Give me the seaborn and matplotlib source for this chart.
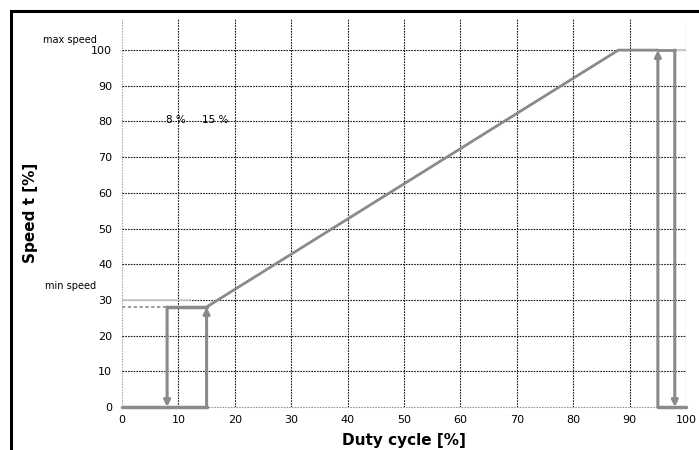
import matplotlib
matplotlib.use("Agg")
import matplotlib.pyplot as plt
import seaborn as sns
import pandas as pd
from matplotlib.patches import Rectangle

# curve values
ramp_x = [15, 16.5, 88, 95]
ramp_y = [28, 29.5, 100, 100]
low_base_x = [0, 15]
high_base_x = [95, 100]
low_plateau_x = [8, 15]
min_speed = 28
max_speed = 100
up_arrows = [(15, 0, min_speed), (95, 0, max_speed)]
down_arrows = [(8, min_speed, 0), (98, max_speed, 0)]
ticks = list(range(0, 101, 10))

sns.set_theme(style="white")
plt.rcParams["font.family"] = ["DejaVu Sans"]
plt.rcParams["text.color"] = "black"
plt.rcParams["axes.labelcolor"] = "black"
plt.rcParams["xtick.color"] = "black"
plt.rcParams["ytick.color"] = "black"

fig = plt.figure(figsize=(6.99, 4.5), dpi=100)
ax = fig.add_axes([0.1745, 0.0956, 0.807, 0.8644])

grey = "#8a8a8a"

# grid
for t in ticks:
    ax.axhline(t, color="#999999" if t == 0 else "#1a1a1a", lw=0.8,
               ls=(0, (1.5, 1)), zorder=1, clip_on=False)
    ax.axvline(t, color="#aaaaaa" if t == 0 else "#1a1a1a", lw=0.8,
               ls=(0, (1.5, 1)), zorder=1)

# helper lines
ax.plot([0, 8], [min_speed, min_speed], color=grey, lw=1.2, ls=(0, (2, 1.5)), zorder=2)
ax.plot([0, 12], [30, 30], color="#cccccc", lw=1.2, zorder=2)
ax.plot([98, 100], [max_speed, max_speed], color="#cccccc", lw=1.5, zorder=2)

ramp = pd.DataFrame({"x": ramp_x, "y": ramp_y})
sns.lineplot(data=ramp, x="x", y="y", sort=False, color=grey, lw=2, ax=ax, zorder=3)
for xs, y in [(low_base_x, 0), (high_base_x, 0), (low_plateau_x, min_speed)]:
    sns.lineplot(x=xs, y=[y, y], color=grey, lw=2.5, ax=ax, zorder=3, clip_on=False)
sns.lineplot(x=[95, 98], y=[max_speed, max_speed], color=grey, lw=2, ax=ax, zorder=3)

for x, y0, y1 in up_arrows + down_arrows:
    ax.annotate("", xy=(x, y1), xytext=(x, y0),
                arrowprops=dict(arrowstyle="-|>", color=grey, lw=2.2,
                                mutation_scale=9, shrinkA=0, shrinkB=0),
                zorder=4)

ax.set_xlim(0, 100)
ax.set_ylim(0, 109)
ax.set_xticks(ticks)
ax.set_yticks(ticks)
ax.tick_params(labelsize=8, length=3, width=0.8, color="black", pad=4)
ax.tick_params(axis="x", direction="inout")
for s in ax.spines.values():
    s.set_visible(False)

ax.set_xlabel("Duty cycle [%]", fontsize=11, fontweight="bold", labelpad=6)
ax.set_ylabel("Speed t [%]", fontsize=11, fontweight="bold", labelpad=38)

ax.text(-4.5, 101.5, "max speed", fontsize=7, ha="right", va="bottom")
ax.text(-4.5, 32.5, "min speed", fontsize=7, ha="right", va="bottom")
ax.text(9.5, 79, "8 %", fontsize=7.5, ha="center", va="bottom")
ax.text(16.5, 79, "15 %", fontsize=7.5, ha="center", va="bottom")

# outer frame of the original figure
fig.patches.append(Rectangle((11 / 699, -0.1), 1.2, 1 - 11 / 450 + 0.1,
                             transform=fig.transFigure, fill=False,
                             edgecolor="black", lw=2.2))

fig.savefig("out.png", dpi=100)
